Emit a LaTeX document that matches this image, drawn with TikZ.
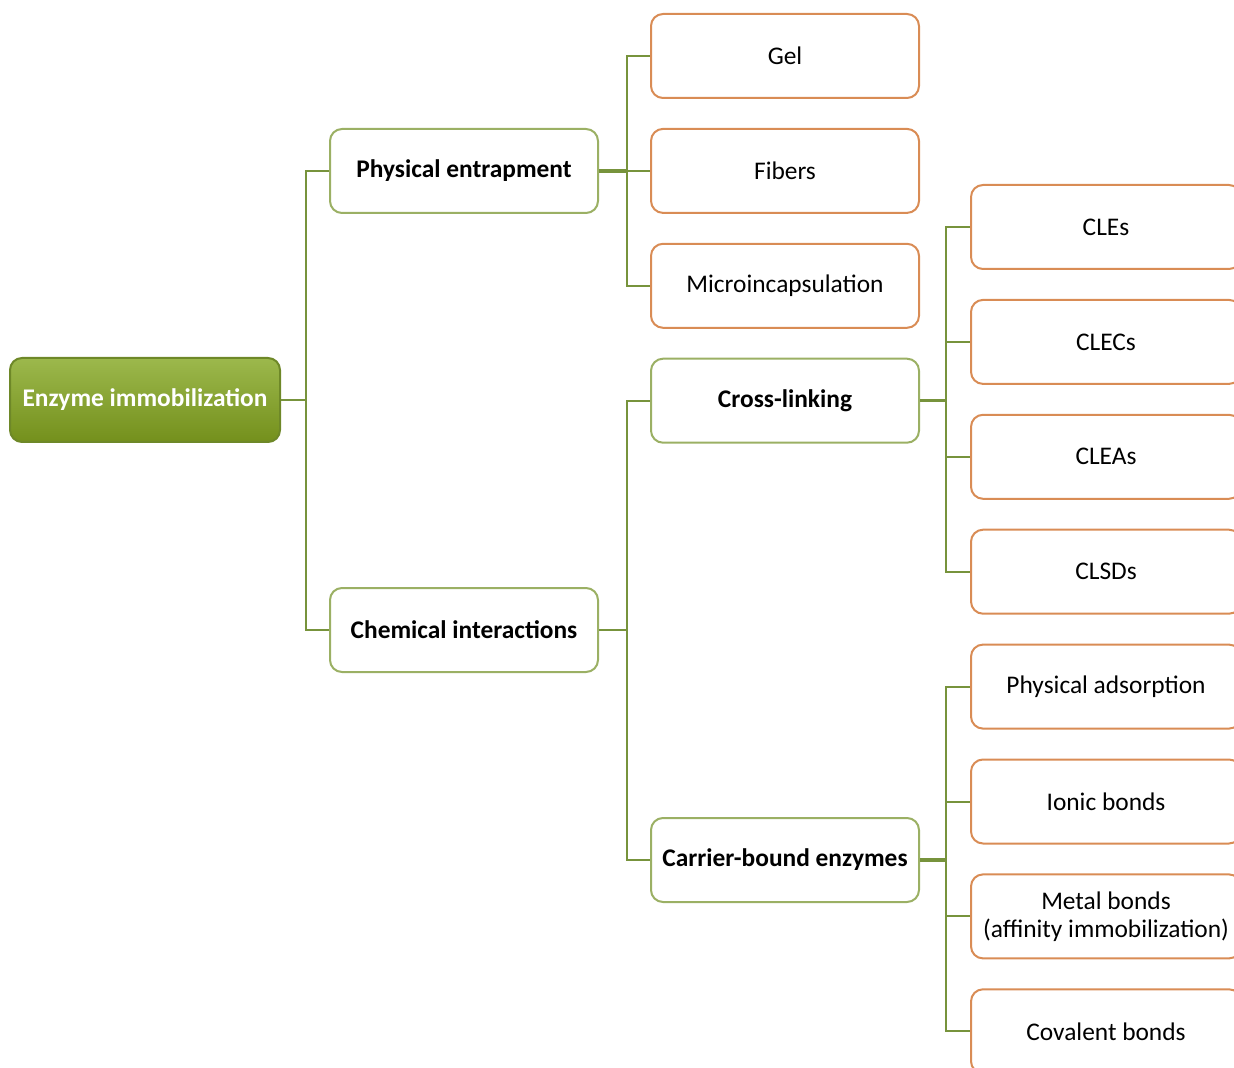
\documentclass[tikz,border=0pt]{standalone}
\usepackage{fontspec}
\setmainfont{Carlito}
\usetikzlibrary{positioning}

\definecolor{linegreen}{HTML}{77933C}
\definecolor{boxgreen}{HTML}{9BB064}
\definecolor{boxorange}{HTML}{D98C55}
\definecolor{roottop}{HTML}{9CB84C}
\definecolor{rootbottom}{HTML}{74901C}
\definecolor{rootedge}{HTML}{6E8828}

\begin{document}
\begin{tikzpicture}[
x=0.5pt, y=-0.5pt,
node distance=14.45pt,
base/.style={rectangle, rounded corners=6pt, line width=1pt, minimum width=134pt, minimum height=42pt, align=center, inner sep=1pt, font=\fontsize{12.7}{14}\selectfont},
rootbox/.style={base, draw=rootedge, top color=roottop, bottom color=rootbottom, text=white, minimum width=135pt, font=\fontsize{12.7}{14}\selectfont\bfseries},
mainbox/.style={base, draw=boxgreen, fill=white, font=\fontsize{12.7}{14}\selectfont\bfseries},
leafbox/.style={base, draw=boxorange, fill=white},
subbox/.style={leafbox, minimum width=135pt},
link/.style={draw=linegreen, line width=1pt},
trunk/.style={draw=linegreen, line width=1.6pt}
]
\useasboundingbox (0,0) rectangle (1234,1068);

\node[rootbox] (root) at (145,400) {Enzyme immobilization};

\node[mainbox] (phys) at (464,171) {Physical entrapment};
\node[mainbox] (chem) at (464,630) {Chemical interactions};

\node[leafbox] (gel) at (785,56) {Gel};
\node[leafbox, below=of gel] (fibers) {Fibers};
\node[leafbox, below=of fibers] (micro) {Microincapsulation};
\node[mainbox, below=of micro] (cross) {Cross-linking};
\node[mainbox] (carrier) at (785,860) {Carrier-bound enzymes};

\node[subbox] (cles) at (1106,227) {CLEs};
\node[subbox, below=of cles] (clecs) {CLECs};
\node[subbox, below=of clecs] (cleas) {CLEAs};
\node[subbox, below=of cleas] (clsds) {CLSDs};
\node[subbox, below=of clsds] (adsorp) {Physical adsorption};
\node[subbox, below=of adsorp] (ionic) {Ionic bonds};
\node[subbox, below=of ionic] (metal) {Metal bonds\\(affinity immobilization)};
\node[subbox, below=of metal] (covalent) {Covalent bonds};

% junctions
\coordinate (j1) at ([xshift=12.5pt]root.east);
\coordinate (j2) at ([xshift=14pt]phys.east);
\coordinate (j3) at ([xshift=14pt]chem.east);
\coordinate (j4) at ([xshift=13pt]cross.east);
\coordinate (j5) at ([xshift=13pt]carrier.east);

\draw[link] (root.east) -- (j1);
\foreach \c in {phys,chem} \draw[link] (j1) |- (\c.west);

\draw[trunk] (phys.east) -- (j2);
\foreach \c in {gel,fibers,micro} \draw[link] (j2) |- (\c.west);

\draw[link] (chem.east) -- (j3);
\foreach \c in {cross,carrier} \draw[link] (j3) |- (\c.west);

\draw[trunk] (cross.east) -- (j4);
\foreach \c in {cles,clecs,cleas,clsds} \draw[link] (j4) |- (\c.west);

\draw[trunk] (carrier.east) -- (j5);
\foreach \c in {adsorp,ionic,metal,covalent} \draw[link] (j5) |- (\c.west);

\end{tikzpicture}
\end{document}
